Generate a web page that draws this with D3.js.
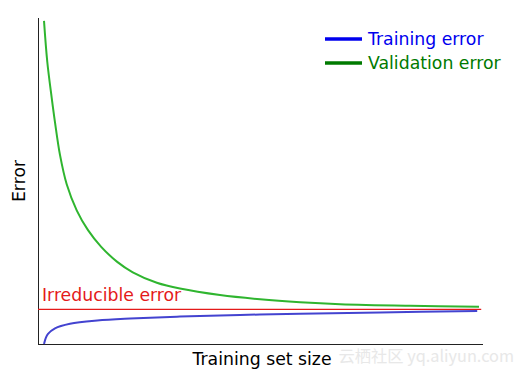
<!DOCTYPE html>
<html>
<head>
<meta charset="utf-8">
<script src="https://cdn.jsdelivr.net/npm/d3@7"></script>
<style>
  body { margin: 0; background: #fff; }
  svg { display: block; font-family: "DejaVu Sans", sans-serif; }
</style>
</head>
<body>
<svg id="mount" width="524" height="375"></svg>
<script>
// Learning curves (x = training set size, y = error)
var validationX = [1.35, 2.09, 3.08, 3.82, 4.94, 6.45, 8.7, 11.2, 14.2, 17.8, 21.3, 26.7, 31.9, 40.9, 49.9, 58.9, 67.9, 83.6, 99.1];
var validationY = [9.91, 8.65, 7.55, 6.80, 5.80, 4.90, 4.10, 3.50, 2.98, 2.52, 2.20, 1.88, 1.70, 1.50, 1.37, 1.28, 1.22, 1.17, 1.14];
var trainingX = [1.35, 1.8, 2.25, 3.82, 7.19, 13.3, 20.7, 31.9, 45.4, 58.9, 76.9, 98.7];
var trainingY = [0, 0.20, 0.31, 0.48, 0.62, 0.72, 0.78, 0.84, 0.89, 0.93, 0.97, 1.01];
var irreducible = 1.06;
var irreducibleRange = [0, 99.6];
var legendLabels = ["Training error", "Validation error"];

var colorTrain = "#4343d0";
var colorValid = "#2fb52f";
var colorIrr = "#e41a1a";

var svg = d3.select("#mount");
var margin = { top: 18, right: 41, bottom: 31, left: 38 };
var width = 524 - margin.left - margin.right;
var height = 375 - margin.top - margin.bottom;
var g = svg.append("g")
  .attr("transform", "translate(" + margin.left + "," + margin.top + ")");

var x = d3.scaleLinear().domain([0, 100]).range([0, width]);
var y = d3.scaleLinear().domain([0, 10]).range([height, 0]);

function zip(xs, ys) {
  return xs.map(function(d, i) { return { x: d, y: ys[i] }; });
}

var line = d3.line()
  .curve(d3.curveCatmullRom.alpha(0.5))
  .x(function(d) { return x(d.x); })
  .y(function(d) { return y(d.y); });

// spines (left + bottom only)
g.append("line")
  .attr("x1", 0.5).attr("x2", 0.5)
  .attr("y1", 0).attr("y2", height)
  .attr("stroke", "#222").attr("stroke-width", 1);
g.append("line")
  .attr("x1", 0).attr("x2", width)
  .attr("y1", height + 0.5).attr("y2", height + 0.5)
  .attr("stroke", "#222").attr("stroke-width", 1);

// irreducible error
g.append("line")
  .attr("x1", x(irreducibleRange[0])).attr("x2", x(irreducibleRange[1]))
  .attr("y1", y(irreducible)).attr("y2", y(irreducible))
  .attr("stroke", colorIrr).attr("stroke-width", 1.3);

g.append("text")
  .attr("x", 4)
  .attr("y", y(irreducible) - 8)
  .attr("fill", colorIrr)
  .style("font-size", "17.3px")
  .text("Irreducible error");

g.append("path")
  .datum(zip(validationX, validationY))
  .attr("fill", "none")
  .attr("stroke", colorValid)
  .attr("stroke-width", 2)
  .attr("d", line);

g.append("path")
  .datum(zip(trainingX, trainingY))
  .attr("fill", "none")
  .attr("stroke", colorTrain)
  .attr("stroke-width", 2)
  .attr("d", line);

// axis labels
svg.append("text")
  .attr("x", 262)
  .attr("y", 365)
  .attr("text-anchor", "middle")
  .style("font-size", "17.3px")
  .text("Training set size");

svg.append("text")
  .attr("transform", "translate(25,181) rotate(-90)")
  .attr("text-anchor", "middle")
  .style("font-size", "17.3px")
  .text("Error");

// legend
var legendColors = ["#0000ee", "#007a00"];
var legend = svg.append("g").attr("transform", "translate(325,39)");
legendLabels.forEach(function(label, i) {
  var row = legend.append("g").attr("transform", "translate(0," + i * 24 + ")");
  row.append("line")
    .attr("x1", 0).attr("x2", 37)
    .attr("stroke", legendColors[i])
    .attr("stroke-width", 3.5);
  row.append("text")
    .attr("x", 43)
    .attr("y", 6)
    .attr("fill", legendColors[i])
    .style("font-size", "17.3px")
    .text(label);
});

// watermark
svg.append("text")
  .attr("x", 514)
  .attr("y", 362)
  .attr("text-anchor", "end")
  .attr("fill", "#e8e8e8")
  .style("font-size", "16.3px")
  .style("font-family", "'Noto Sans CJK SC', sans-serif")
  .text("云栖社区 yq.aliyun.com");
</script>
</body>
</html>
